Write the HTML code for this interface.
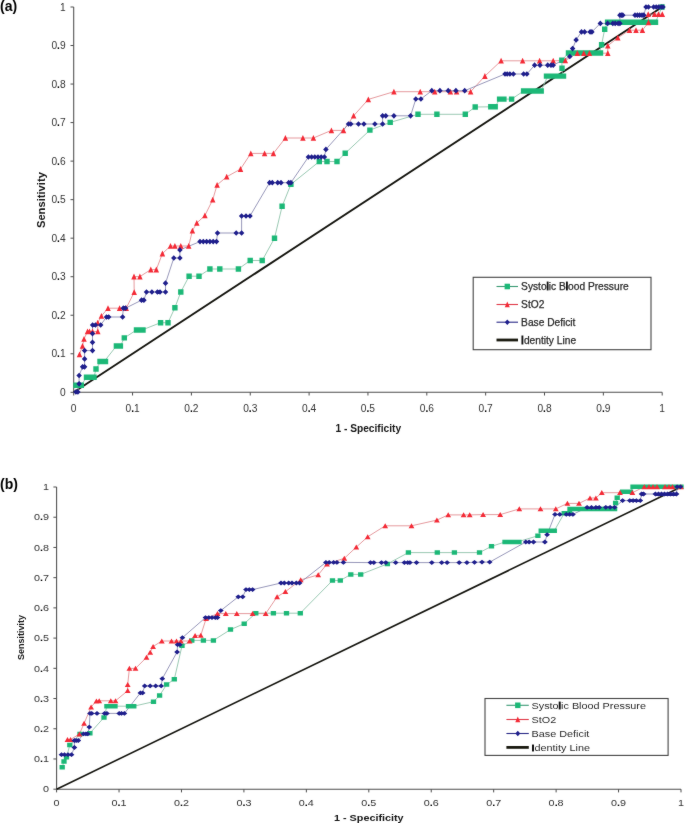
<!DOCTYPE html>
<html><head><meta charset="utf-8"><style>
html,body{margin:0;padding:0;background:#fff;}
body{width:685px;height:823px;overflow:hidden;}
svg{display:block;}
</style></head><body>
<svg width="685" height="823" viewBox="0 0 685 823">
<defs><filter id="bl" color-interpolation-filters="sRGB" x="0" y="0" width="685" height="823" filterUnits="userSpaceOnUse"><feConvolveMatrix order="3" kernelMatrix="1 2 1 2 40 2 1 2 1" edgeMode="duplicate"/></filter></defs>
<rect width="685" height="823" fill="#fff"/>
<g filter="url(#bl)">
<rect width="685" height="823" fill="#fff"/>
<path stroke="#4d4d4d" stroke-width="1.05" fill="none" d="M73.7 7V392.3H662.2"/>
<path stroke="#4d4d4d" stroke-width="1.0" fill="none" d="M70.5 392.3H73.7M73.7 392.3V395.5M70.5 353.77H73.7M132.55 392.3V395.5M70.5 315.24H73.7M191.4 392.3V395.5M70.5 276.71H73.7M250.25 392.3V395.5M70.5 238.18H73.7M309.1 392.3V395.5M70.5 199.65H73.7M367.95 392.3V395.5M70.5 161.12H73.7M426.8 392.3V395.5M70.5 122.59H73.7M485.65 392.3V395.5M70.5 84.06H73.7M544.5 392.3V395.5M70.5 45.53H73.7M603.35 392.3V395.5M70.5 7H73.7M662.2 392.3V395.5"/>
<line x1="73.7" y1="392.3" x2="662.2" y2="7" stroke="#161610" stroke-width="1.9"/>
<polyline fill="none" stroke="#88bfa5" stroke-width="0.85" stroke-opacity="1" points="76,385.2 81.3,385.2 86.5,377.2 90.5,377.2 94,377.2 96,369 100.7,361.5 104.2,361.5 116.4,346 120.4,346 124.3,337.9 136.5,330 142,330 160.6,322.7 168,322.7 174.9,307.7 180.8,292 189.1,276.2 199,276.2 209.9,269 219.8,269 238.4,269 250.2,260.5 262.2,260.5 274.5,238.2 282.1,206.3 290.9,184.4 319.3,161.5 327,161.5 337,161.5 345.2,153.3 369.9,130.1 390.2,122.4 418,114.3 436.9,114.3 465.3,114.3 475.2,107 490.8,106.8 495.2,106.8 499.6,99.1 503.9,99.1 511.6,99.1 523.6,91 529.1,91 534.6,91 541.2,91 547.7,76.1 553.2,76.1 558.7,76.1 562.5,76.1 562,68.2 561.8,60.2 568.5,53 572.9,53 579.5,53 586,53 592.6,53 599.2,53 601.6,44.7 604.7,29.2 607.6,22.2 612,22.2 617,22.2 622,22.2 627,22.2 632,22.2 637,22.2 642,22.2 647,22.2 652,22.2 655.5,22.2 662,7"/>
<polyline fill="none" stroke="#e0888c" stroke-width="0.85" stroke-opacity="1" points="79.5,354.4 82.5,346 84,339 87.5,331.5 89.5,331.5 92.5,331.5 97.8,331.5 97.7,322.8 101.4,316 108,308.2 119.6,308.2 126.2,308.2 134.2,292.2 134,276.6 139.9,276.6 150.8,269.6 156.3,269.6 162.4,253.6 170.5,246 174.9,246 180.8,246 188.7,246 192.4,230.7 196.8,223 204.9,215.5 212.7,199.8 217.1,184.9 226.7,176.8 240.5,169.1 250.8,153.4 264.6,153.4 273.4,153.4 285.4,138 302.9,138 313.4,138 331.4,130.4 343.5,130.4 353.6,115.8 368.3,99.4 393.9,91.7 420.2,91.7 434.7,91.7 450.4,91.7 456.6,91.7 470.6,91.7 484.9,76.1 501.1,60.8 522.6,60.8 539.6,60.8 553.2,60.8 565.3,60.5 577.3,53.2 583.8,53.2 589.4,53.2 607.8,53.2 607.8,45.8 617.8,37.7 629.5,30.2 636,30.2 642.4,30.2 648.5,22.4 648.2,14.2 654.5,14.2 658.5,14.2 662.3,14.2"/>
<polyline fill="none" stroke="#8585ad" stroke-width="0.85" stroke-opacity="1" points="75.9,392 77.9,392 79.1,383.8 79.1,375.5 82.6,366.8 84.6,366.8 84.6,358.9 84.6,350.6 92.5,350.6 92.5,342.3 92.5,333.6 92.6,325 95.5,325 100.7,325 106.5,317 108.7,317 122.6,317 123.3,308.2 125.5,308.2 141.5,300.2 143.9,300.2 146.5,292 151.9,292 157.4,292 160,292 165.5,292 165.5,283.2 173.8,258 179.9,258 179.9,249.9 200,241.6 203.3,241.6 206.6,241.6 209.9,241.6 213.2,241.6 216.5,241.6 217.5,233 236.2,233 241.6,233 241.6,216 246,216 250,216 269.6,182.7 272.3,182.7 277.7,182.7 281,182.7 288.7,182.7 290.9,182.7 308.4,157 311.6,157 314.8,157 318,157 321.2,157 324.4,157 325.9,149.4 348.5,124 350.8,124 358.5,124 363.9,124 374.9,124 382.6,124 382.6,115.8 385.8,115.8 393.9,115.8 410.6,115.8 415.8,99 420.9,99 431.8,90.7 439.9,90.7 448.2,90.7 455.9,90.7 464.7,90.7 505,74 507.2,74 509.9,74 513.4,74 523.6,74 526.9,74 534.6,65.2 540,65.2 547.7,65.2 551,65.2 553.2,65.2 569.8,56.5 572.6,48.6 576.1,39.9 581.5,31.9 584.6,31.9 590.1,31.9 591.9,31.9 600.3,23.4 607.6,23.4 612.8,23.4 615.2,23.4 618.1,23.4 619.9,23.4 619.9,15.2 621.5,15.2 622.8,15.2 635,15.2 637.4,15.2 639.7,15.2 642,15.2 643.8,15.2 646,7 648.5,7 653.6,7 656.2,7 658.7,7 661.3,7 663,7"/>
<path fill="#1cb877" d="M73.3 382.5h5.4v5.4h-5.4zM78.6 382.5h5.4v5.4h-5.4zM83.8 374.5h5.4v5.4h-5.4zM87.8 374.5h5.4v5.4h-5.4zM91.3 374.5h5.4v5.4h-5.4zM93.3 366.3h5.4v5.4h-5.4zM98 358.8h5.4v5.4h-5.4zM101.5 358.8h5.4v5.4h-5.4zM113.7 343.3h5.4v5.4h-5.4zM117.7 343.3h5.4v5.4h-5.4zM121.6 335.2h5.4v5.4h-5.4zM133.8 327.3h5.4v5.4h-5.4zM139.3 327.3h5.4v5.4h-5.4zM157.9 320h5.4v5.4h-5.4zM165.3 320h5.4v5.4h-5.4zM172.2 305h5.4v5.4h-5.4zM178.1 289.3h5.4v5.4h-5.4zM186.4 273.5h5.4v5.4h-5.4zM196.3 273.5h5.4v5.4h-5.4zM207.2 266.3h5.4v5.4h-5.4zM217.1 266.3h5.4v5.4h-5.4zM235.7 266.3h5.4v5.4h-5.4zM247.5 257.8h5.4v5.4h-5.4zM259.5 257.8h5.4v5.4h-5.4zM271.8 235.5h5.4v5.4h-5.4zM279.4 203.6h5.4v5.4h-5.4zM288.2 181.7h5.4v5.4h-5.4zM316.6 158.8h5.4v5.4h-5.4zM324.3 158.8h5.4v5.4h-5.4zM334.3 158.8h5.4v5.4h-5.4zM342.5 150.6h5.4v5.4h-5.4zM367.2 127.4h5.4v5.4h-5.4zM387.5 119.7h5.4v5.4h-5.4zM415.3 111.6h5.4v5.4h-5.4zM434.2 111.6h5.4v5.4h-5.4zM462.6 111.6h5.4v5.4h-5.4zM472.5 104.3h5.4v5.4h-5.4zM488.1 104.1h5.4v5.4h-5.4zM492.5 104.1h5.4v5.4h-5.4zM496.9 96.4h5.4v5.4h-5.4zM501.2 96.4h5.4v5.4h-5.4zM508.9 96.4h5.4v5.4h-5.4zM520.9 88.3h5.4v5.4h-5.4zM526.4 88.3h5.4v5.4h-5.4zM531.9 88.3h5.4v5.4h-5.4zM538.5 88.3h5.4v5.4h-5.4zM545 73.4h5.4v5.4h-5.4zM550.5 73.4h5.4v5.4h-5.4zM556 73.4h5.4v5.4h-5.4zM559.8 73.4h5.4v5.4h-5.4zM559.3 65.5h5.4v5.4h-5.4zM559.1 57.5h5.4v5.4h-5.4zM565.8 50.3h5.4v5.4h-5.4zM570.2 50.3h5.4v5.4h-5.4zM576.8 50.3h5.4v5.4h-5.4zM583.3 50.3h5.4v5.4h-5.4zM589.9 50.3h5.4v5.4h-5.4zM596.5 50.3h5.4v5.4h-5.4zM598.9 42h5.4v5.4h-5.4zM602 26.5h5.4v5.4h-5.4zM604.9 19.5h5.4v5.4h-5.4zM609.3 19.5h5.4v5.4h-5.4zM614.3 19.5h5.4v5.4h-5.4zM619.3 19.5h5.4v5.4h-5.4zM624.3 19.5h5.4v5.4h-5.4zM629.3 19.5h5.4v5.4h-5.4zM634.3 19.5h5.4v5.4h-5.4zM639.3 19.5h5.4v5.4h-5.4zM644.3 19.5h5.4v5.4h-5.4zM649.3 19.5h5.4v5.4h-5.4zM652.8 19.5h5.4v5.4h-5.4zM659.3 4.3h5.4v5.4h-5.4zM73.3 382.5h5.4v5.4h-5.4zM75.07 382.5h5.4v5.4h-5.4zM76.83 382.5h5.4v5.4h-5.4zM78.6 382.5h5.4v5.4h-5.4zM83.8 374.5h5.4v5.4h-5.4zM85.67 374.5h5.4v5.4h-5.4zM87.55 374.5h5.4v5.4h-5.4zM89.42 374.5h5.4v5.4h-5.4zM91.3 374.5h5.4v5.4h-5.4zM97.3 358.8h5.4v5.4h-5.4zM99.13 358.8h5.4v5.4h-5.4zM100.97 358.8h5.4v5.4h-5.4zM102.8 358.8h5.4v5.4h-5.4zM113.7 343.3h5.4v5.4h-5.4zM115.7 343.3h5.4v5.4h-5.4zM117.7 343.3h5.4v5.4h-5.4zM134.8 327.3h5.4v5.4h-5.4zM136.63 327.3h5.4v5.4h-5.4zM138.47 327.3h5.4v5.4h-5.4zM140.3 327.3h5.4v5.4h-5.4zM488.1 104.1h5.4v5.4h-5.4zM490.3 104.1h5.4v5.4h-5.4zM492.5 104.1h5.4v5.4h-5.4zM496.9 96.4h5.4v5.4h-5.4zM499.05 96.4h5.4v5.4h-5.4zM501.2 96.4h5.4v5.4h-5.4zM520.9 88.3h5.4v5.4h-5.4zM522.86 88.3h5.4v5.4h-5.4zM524.81 88.3h5.4v5.4h-5.4zM526.77 88.3h5.4v5.4h-5.4zM528.72 88.3h5.4v5.4h-5.4zM530.68 88.3h5.4v5.4h-5.4zM532.63 88.3h5.4v5.4h-5.4zM534.59 88.3h5.4v5.4h-5.4zM536.54 88.3h5.4v5.4h-5.4zM538.5 88.3h5.4v5.4h-5.4zM543.8 73.4h5.4v5.4h-5.4zM545.92 73.4h5.4v5.4h-5.4zM548.05 73.4h5.4v5.4h-5.4zM550.17 73.4h5.4v5.4h-5.4zM552.3 73.4h5.4v5.4h-5.4zM554.42 73.4h5.4v5.4h-5.4zM556.55 73.4h5.4v5.4h-5.4zM558.67 73.4h5.4v5.4h-5.4zM560.8 73.4h5.4v5.4h-5.4zM566.3 50.3h5.4v5.4h-5.4zM568.27 50.3h5.4v5.4h-5.4zM570.24 50.3h5.4v5.4h-5.4zM572.21 50.3h5.4v5.4h-5.4zM574.17 50.3h5.4v5.4h-5.4zM576.14 50.3h5.4v5.4h-5.4zM578.11 50.3h5.4v5.4h-5.4zM580.08 50.3h5.4v5.4h-5.4zM582.05 50.3h5.4v5.4h-5.4zM584.02 50.3h5.4v5.4h-5.4zM585.99 50.3h5.4v5.4h-5.4zM587.96 50.3h5.4v5.4h-5.4zM589.92 50.3h5.4v5.4h-5.4zM591.89 50.3h5.4v5.4h-5.4zM593.86 50.3h5.4v5.4h-5.4zM595.83 50.3h5.4v5.4h-5.4zM597.8 50.3h5.4v5.4h-5.4zM606.3 19.5h5.4v5.4h-5.4zM608.32 19.5h5.4v5.4h-5.4zM610.35 19.5h5.4v5.4h-5.4zM612.37 19.5h5.4v5.4h-5.4zM614.39 19.5h5.4v5.4h-5.4zM616.41 19.5h5.4v5.4h-5.4zM618.44 19.5h5.4v5.4h-5.4zM620.46 19.5h5.4v5.4h-5.4zM622.48 19.5h5.4v5.4h-5.4zM624.5 19.5h5.4v5.4h-5.4zM626.53 19.5h5.4v5.4h-5.4zM628.55 19.5h5.4v5.4h-5.4zM630.57 19.5h5.4v5.4h-5.4zM632.6 19.5h5.4v5.4h-5.4zM634.62 19.5h5.4v5.4h-5.4zM636.64 19.5h5.4v5.4h-5.4zM638.66 19.5h5.4v5.4h-5.4zM640.69 19.5h5.4v5.4h-5.4zM642.71 19.5h5.4v5.4h-5.4zM644.73 19.5h5.4v5.4h-5.4zM646.75 19.5h5.4v5.4h-5.4zM648.78 19.5h5.4v5.4h-5.4zM650.8 19.5h5.4v5.4h-5.4z"/>
<path fill="#f42a36" d="M79.5 351.38L82.25 357.18L76.75 357.18zM82.5 342.98L85.25 348.78L79.75 348.78zM84 335.98L86.75 341.78L81.25 341.78zM87.5 328.48L90.25 334.28L84.75 334.28zM89.5 328.48L92.25 334.28L86.75 334.28zM92.5 328.48L95.25 334.28L89.75 334.28zM97.8 328.48L100.55 334.28L95.05 334.28zM97.7 319.78L100.45 325.58L94.95 325.58zM101.4 312.98L104.15 318.78L98.65 318.78zM108 305.18L110.75 310.98L105.25 310.98zM119.6 305.18L122.35 310.98L116.85 310.98zM126.2 305.18L128.95 310.98L123.45 310.98zM134.2 289.18L136.95 294.98L131.45 294.98zM134 273.58L136.75 279.38L131.25 279.38zM139.9 273.58L142.65 279.38L137.15 279.38zM150.8 266.58L153.55 272.38L148.05 272.38zM156.3 266.58L159.05 272.38L153.55 272.38zM162.4 250.58L165.15 256.38L159.65 256.38zM170.5 242.98L173.25 248.78L167.75 248.78zM174.9 242.98L177.65 248.78L172.15 248.78zM180.8 242.98L183.55 248.78L178.05 248.78zM188.7 242.98L191.45 248.78L185.95 248.78zM192.4 227.68L195.15 233.48L189.65 233.48zM196.8 219.98L199.55 225.78L194.05 225.78zM204.9 212.48L207.65 218.28L202.15 218.28zM212.7 196.78L215.45 202.58L209.95 202.58zM217.1 181.88L219.85 187.68L214.35 187.68zM226.7 173.78L229.45 179.58L223.95 179.58zM240.5 166.08L243.25 171.88L237.75 171.88zM250.8 150.38L253.55 156.18L248.05 156.18zM264.6 150.38L267.35 156.18L261.85 156.18zM273.4 150.38L276.15 156.18L270.65 156.18zM285.4 134.98L288.15 140.78L282.65 140.78zM302.9 134.98L305.65 140.78L300.15 140.78zM313.4 134.98L316.15 140.78L310.65 140.78zM331.4 127.38L334.15 133.18L328.65 133.18zM343.5 127.38L346.25 133.18L340.75 133.18zM353.6 112.78L356.35 118.58L350.85 118.58zM368.3 96.38L371.05 102.18L365.55 102.18zM393.9 88.68L396.65 94.48L391.15 94.48zM420.2 88.68L422.95 94.48L417.45 94.48zM434.7 88.68L437.45 94.48L431.95 94.48zM450.4 88.68L453.15 94.48L447.65 94.48zM456.6 88.68L459.35 94.48L453.85 94.48zM470.6 88.68L473.35 94.48L467.85 94.48zM484.9 73.08L487.65 78.88L482.15 78.88zM501.1 57.78L503.85 63.58L498.35 63.58zM522.6 57.78L525.35 63.58L519.85 63.58zM539.6 57.78L542.35 63.58L536.85 63.58zM553.2 57.78L555.95 63.58L550.45 63.58zM565.3 57.48L568.05 63.28L562.55 63.28zM577.3 50.18L580.05 55.98L574.55 55.98zM583.8 50.18L586.55 55.98L581.05 55.98zM589.4 50.18L592.15 55.98L586.65 55.98zM607.8 50.18L610.55 55.98L605.05 55.98zM607.8 42.78L610.55 48.58L605.05 48.58zM617.8 34.68L620.55 40.48L615.05 40.48zM629.5 27.18L632.25 32.98L626.75 32.98zM636 27.18L638.75 32.98L633.25 32.98zM642.4 27.18L645.15 32.98L639.65 32.98zM648.5 19.38L651.25 25.18L645.75 25.18zM648.2 11.18L650.95 16.98L645.45 16.98zM654.5 11.18L657.25 16.98L651.75 16.98zM658.5 11.18L661.25 16.98L655.75 16.98zM662.3 11.18L665.05 16.98L659.55 16.98z"/>
<path fill="#1e1e8c" d="M75.9 389.15L78.65 392L75.9 394.85L73.15 392zM77.9 389.15L80.65 392L77.9 394.85L75.15 392zM79.1 380.95L81.85 383.8L79.1 386.65L76.35 383.8zM79.1 372.65L81.85 375.5L79.1 378.35L76.35 375.5zM82.6 363.95L85.35 366.8L82.6 369.65L79.85 366.8zM84.6 363.95L87.35 366.8L84.6 369.65L81.85 366.8zM84.6 356.05L87.35 358.9L84.6 361.75L81.85 358.9zM84.6 347.75L87.35 350.6L84.6 353.45L81.85 350.6zM92.5 347.75L95.25 350.6L92.5 353.45L89.75 350.6zM92.5 339.45L95.25 342.3L92.5 345.15L89.75 342.3zM92.5 330.75L95.25 333.6L92.5 336.45L89.75 333.6zM92.6 322.15L95.35 325L92.6 327.85L89.85 325zM95.5 322.15L98.25 325L95.5 327.85L92.75 325zM100.7 322.15L103.45 325L100.7 327.85L97.95 325zM106.5 314.15L109.25 317L106.5 319.85L103.75 317zM108.7 314.15L111.45 317L108.7 319.85L105.95 317zM122.6 314.15L125.35 317L122.6 319.85L119.85 317zM123.3 305.35L126.05 308.2L123.3 311.05L120.55 308.2zM125.5 305.35L128.25 308.2L125.5 311.05L122.75 308.2zM141.5 297.35L144.25 300.2L141.5 303.05L138.75 300.2zM143.9 297.35L146.65 300.2L143.9 303.05L141.15 300.2zM146.5 289.15L149.25 292L146.5 294.85L143.75 292zM151.9 289.15L154.65 292L151.9 294.85L149.15 292zM157.4 289.15L160.15 292L157.4 294.85L154.65 292zM160 289.15L162.75 292L160 294.85L157.25 292zM165.5 289.15L168.25 292L165.5 294.85L162.75 292zM165.5 280.35L168.25 283.2L165.5 286.05L162.75 283.2zM173.8 255.15L176.55 258L173.8 260.85L171.05 258zM179.9 255.15L182.65 258L179.9 260.85L177.15 258zM179.9 247.05L182.65 249.9L179.9 252.75L177.15 249.9zM200 238.75L202.75 241.6L200 244.45L197.25 241.6zM203.3 238.75L206.05 241.6L203.3 244.45L200.55 241.6zM206.6 238.75L209.35 241.6L206.6 244.45L203.85 241.6zM209.9 238.75L212.65 241.6L209.9 244.45L207.15 241.6zM213.2 238.75L215.95 241.6L213.2 244.45L210.45 241.6zM216.5 238.75L219.25 241.6L216.5 244.45L213.75 241.6zM217.5 230.15L220.25 233L217.5 235.85L214.75 233zM236.2 230.15L238.95 233L236.2 235.85L233.45 233zM241.6 230.15L244.35 233L241.6 235.85L238.85 233zM241.6 213.15L244.35 216L241.6 218.85L238.85 216zM246 213.15L248.75 216L246 218.85L243.25 216zM250 213.15L252.75 216L250 218.85L247.25 216zM269.6 179.85L272.35 182.7L269.6 185.55L266.85 182.7zM272.3 179.85L275.05 182.7L272.3 185.55L269.55 182.7zM277.7 179.85L280.45 182.7L277.7 185.55L274.95 182.7zM281 179.85L283.75 182.7L281 185.55L278.25 182.7zM288.7 179.85L291.45 182.7L288.7 185.55L285.95 182.7zM290.9 179.85L293.65 182.7L290.9 185.55L288.15 182.7zM308.4 154.15L311.15 157L308.4 159.85L305.65 157zM311.6 154.15L314.35 157L311.6 159.85L308.85 157zM314.8 154.15L317.55 157L314.8 159.85L312.05 157zM318 154.15L320.75 157L318 159.85L315.25 157zM321.2 154.15L323.95 157L321.2 159.85L318.45 157zM324.4 154.15L327.15 157L324.4 159.85L321.65 157zM325.9 146.55L328.65 149.4L325.9 152.25L323.15 149.4zM348.5 121.15L351.25 124L348.5 126.85L345.75 124zM350.8 121.15L353.55 124L350.8 126.85L348.05 124zM358.5 121.15L361.25 124L358.5 126.85L355.75 124zM363.9 121.15L366.65 124L363.9 126.85L361.15 124zM374.9 121.15L377.65 124L374.9 126.85L372.15 124zM382.6 121.15L385.35 124L382.6 126.85L379.85 124zM382.6 112.95L385.35 115.8L382.6 118.65L379.85 115.8zM385.8 112.95L388.55 115.8L385.8 118.65L383.05 115.8zM393.9 112.95L396.65 115.8L393.9 118.65L391.15 115.8zM410.6 112.95L413.35 115.8L410.6 118.65L407.85 115.8zM415.8 96.15L418.55 99L415.8 101.85L413.05 99zM420.9 96.15L423.65 99L420.9 101.85L418.15 99zM431.8 87.85L434.55 90.7L431.8 93.55L429.05 90.7zM439.9 87.85L442.65 90.7L439.9 93.55L437.15 90.7zM448.2 87.85L450.95 90.7L448.2 93.55L445.45 90.7zM455.9 87.85L458.65 90.7L455.9 93.55L453.15 90.7zM464.7 87.85L467.45 90.7L464.7 93.55L461.95 90.7zM505 71.15L507.75 74L505 76.85L502.25 74zM507.2 71.15L509.95 74L507.2 76.85L504.45 74zM509.9 71.15L512.65 74L509.9 76.85L507.15 74zM513.4 71.15L516.15 74L513.4 76.85L510.65 74zM523.6 71.15L526.35 74L523.6 76.85L520.85 74zM526.9 71.15L529.65 74L526.9 76.85L524.15 74zM534.6 62.35L537.35 65.2L534.6 68.05L531.85 65.2zM540 62.35L542.75 65.2L540 68.05L537.25 65.2zM547.7 62.35L550.45 65.2L547.7 68.05L544.95 65.2zM551 62.35L553.75 65.2L551 68.05L548.25 65.2zM553.2 62.35L555.95 65.2L553.2 68.05L550.45 65.2zM569.8 53.65L572.55 56.5L569.8 59.35L567.05 56.5zM572.6 45.75L575.35 48.6L572.6 51.45L569.85 48.6zM576.1 37.05L578.85 39.9L576.1 42.75L573.35 39.9zM581.5 29.05L584.25 31.9L581.5 34.75L578.75 31.9zM584.6 29.05L587.35 31.9L584.6 34.75L581.85 31.9zM590.1 29.05L592.85 31.9L590.1 34.75L587.35 31.9zM591.9 29.05L594.65 31.9L591.9 34.75L589.15 31.9zM600.3 20.55L603.05 23.4L600.3 26.25L597.55 23.4zM607.6 20.55L610.35 23.4L607.6 26.25L604.85 23.4zM612.8 20.55L615.55 23.4L612.8 26.25L610.05 23.4zM615.2 20.55L617.95 23.4L615.2 26.25L612.45 23.4zM618.1 20.55L620.85 23.4L618.1 26.25L615.35 23.4zM619.9 20.55L622.65 23.4L619.9 26.25L617.15 23.4zM619.9 12.35L622.65 15.2L619.9 18.05L617.15 15.2zM621.5 12.35L624.25 15.2L621.5 18.05L618.75 15.2zM622.8 12.35L625.55 15.2L622.8 18.05L620.05 15.2zM635 12.35L637.75 15.2L635 18.05L632.25 15.2zM637.4 12.35L640.15 15.2L637.4 18.05L634.65 15.2zM639.7 12.35L642.45 15.2L639.7 18.05L636.95 15.2zM642 12.35L644.75 15.2L642 18.05L639.25 15.2zM643.8 12.35L646.55 15.2L643.8 18.05L641.05 15.2zM646 4.15L648.75 7L646 9.85L643.25 7zM648.5 4.15L651.25 7L648.5 9.85L645.75 7zM653.6 4.15L656.35 7L653.6 9.85L650.85 7zM656.2 4.15L658.95 7L656.2 9.85L653.45 7zM658.7 4.15L661.45 7L658.7 9.85L655.95 7zM661.3 4.15L664.05 7L661.3 9.85L658.55 7zM663 4.15L665.75 7L663 9.85L660.25 7z"/>
<g font-family="Liberation Sans, sans-serif" font-size="10.2" fill="#333">
<text x="65.6" y="395.9" text-anchor="end">0</text>
<text x="73.7" y="412.3" text-anchor="middle">0</text>
<text x="65.6" y="357.37" text-anchor="end">0<tspan font-weight="bold" fill="#000">.</tspan>1</text>
<text x="132.55" y="412.3" text-anchor="middle">0<tspan font-weight="bold" fill="#000">.</tspan>1</text>
<text x="65.6" y="318.84" text-anchor="end">0<tspan font-weight="bold" fill="#000">.</tspan>2</text>
<text x="191.4" y="412.3" text-anchor="middle">0<tspan font-weight="bold" fill="#000">.</tspan>2</text>
<text x="65.6" y="280.31" text-anchor="end">0<tspan font-weight="bold" fill="#000">.</tspan>3</text>
<text x="250.25" y="412.3" text-anchor="middle">0<tspan font-weight="bold" fill="#000">.</tspan>3</text>
<text x="65.6" y="241.78" text-anchor="end">0<tspan font-weight="bold" fill="#000">.</tspan>4</text>
<text x="309.1" y="412.3" text-anchor="middle">0<tspan font-weight="bold" fill="#000">.</tspan>4</text>
<text x="65.6" y="203.25" text-anchor="end">0<tspan font-weight="bold" fill="#000">.</tspan>5</text>
<text x="367.95" y="412.3" text-anchor="middle">0<tspan font-weight="bold" fill="#000">.</tspan>5</text>
<text x="65.6" y="164.72" text-anchor="end">0<tspan font-weight="bold" fill="#000">.</tspan>6</text>
<text x="426.8" y="412.3" text-anchor="middle">0<tspan font-weight="bold" fill="#000">.</tspan>6</text>
<text x="65.6" y="126.19" text-anchor="end">0<tspan font-weight="bold" fill="#000">.</tspan>7</text>
<text x="485.65" y="412.3" text-anchor="middle">0<tspan font-weight="bold" fill="#000">.</tspan>7</text>
<text x="65.6" y="87.66" text-anchor="end">0<tspan font-weight="bold" fill="#000">.</tspan>8</text>
<text x="544.5" y="412.3" text-anchor="middle">0<tspan font-weight="bold" fill="#000">.</tspan>8</text>
<text x="65.6" y="49.13" text-anchor="end">0<tspan font-weight="bold" fill="#000">.</tspan>9</text>
<text x="603.35" y="412.3" text-anchor="middle">0<tspan font-weight="bold" fill="#000">.</tspan>9</text>
<text x="65.6" y="10.6" text-anchor="end">1</text>
<text x="662.2" y="412.3" text-anchor="middle">1</text>
</g>
<g font-family="Liberation Sans, sans-serif" font-weight="bold" fill="#161616">
<text transform="translate(45.1 200.1) rotate(-90)" font-size="11.2" text-anchor="middle">Sensitivity</text>
<text x="368.3" y="432.2" font-size="10.2" text-anchor="middle">1 - Specificity</text>
<text x="0" y="10.8" font-size="14" fill="#000">(a)</text>
</g>
<rect x="473.2" y="277.3" width="177.8" height="72.4" fill="#fff" stroke="#444" stroke-width="1.1"/>
<line x1="496.5" y1="286.5" x2="518" y2="286.5" stroke="#3a9a74" stroke-width="1.1"/>
<path fill="#1cb877" d="M504.6 283.7h5.4v5.6h-5.4z"/>
<text transform="translate(521.1 290.1) scale(1.0 1)" font-family="Liberation Sans, sans-serif" font-size="10.2" fill="#2a2a2a" stroke="#2a2a2a" stroke-width="0.25">Systo<tspan stroke="#111" stroke-width="0.9">l</tspan>ic B<tspan stroke="#111" stroke-width="0.9">l</tspan>ood Pressure</text>
<line x1="496.5" y1="304.5" x2="518" y2="304.5" stroke="#e03a48" stroke-width="1.1"/>
<path fill="#f42a36" d="M507.3 301.59L509.8 307.19L504.8 307.19z"/>
<text transform="translate(521.1 308.1) scale(1.0 1)" font-family="Liberation Sans, sans-serif" font-size="10.2" fill="#2a2a2a" stroke="#2a2a2a" stroke-width="0.25">StO2</text>
<line x1="496.5" y1="322.2" x2="518" y2="322.2" stroke="#2a2a88" stroke-width="1.1"/>
<path fill="#1e1e8c" d="M507.3 319.5L509.8 322.2L507.3 324.9L504.8 322.2z"/>
<text transform="translate(521.1 325.8) scale(1.0 1)" font-family="Liberation Sans, sans-serif" font-size="10.2" fill="#2a2a2a" stroke="#2a2a2a" stroke-width="0.25">Base Deficit</text>
<line x1="496.5" y1="340" x2="518" y2="340" stroke="#1a1a10" stroke-width="2.8"/>
<text transform="translate(521.1 343.6) scale(1.0 1)" font-family="Liberation Sans, sans-serif" font-size="10.2" fill="#2a2a2a" stroke="#2a2a2a" stroke-width="0.25"><tspan stroke="#111" stroke-width="0.9">I</tspan>dentity Line</text>
<path stroke="#4d4d4d" stroke-width="1.05" fill="none" d="M56.6 487V789.2H681"/>
<path stroke="#4d4d4d" stroke-width="1.0" fill="none" d="M53.4 789.2H56.6M56.6 789.2V792.4M53.4 758.98H56.6M119.04 789.2V792.4M53.4 728.76H56.6M181.48 789.2V792.4M53.4 698.54H56.6M243.92 789.2V792.4M53.4 668.32H56.6M306.36 789.2V792.4M53.4 638.1H56.6M368.8 789.2V792.4M53.4 607.88H56.6M431.24 789.2V792.4M53.4 577.66H56.6M493.68 789.2V792.4M53.4 547.44H56.6M556.12 789.2V792.4M53.4 517.22H56.6M618.56 789.2V792.4M53.4 487H56.6M681 789.2V792.4"/>
<line x1="56.6" y1="789.2" x2="681" y2="487" stroke="#161610" stroke-width="1.6"/>
<polyline fill="none" stroke="#88bfa5" stroke-width="0.85" stroke-opacity="1" points="62.2,767.2 64,761.5 66.5,757.2 69.8,745.1 80,734 89.9,733.2 104,717.5 106.9,706.2 110.5,706.2 115,706.2 128.5,706.2 133.8,706.2 153.5,701.7 159.6,695.5 166.6,684.6 174.3,679.3 182,645.8 191.8,640.4 203.4,640.4 213.4,640.4 230.5,629.6 244.2,623.7 255.8,613.2 273.4,613.2 286.5,613.2 300.3,613.2 332.5,580.5 340.3,580.5 350.8,574.4 360.7,574.4 387.4,563.9 408.4,552.6 437.3,552.6 454.4,552.6 479.5,552.6 491.5,546.3 505,542 509,542 513,542 517,542 537.9,535.8 541.2,530.8 545.5,530.8 550,530.8 554.3,530.8 564.2,513.3 569.6,513.3 572,509 576,509 581,509 588,509 592,509 596,509 600,509 604,509 608,509 612,509 615.6,503 617.2,497.8 622.6,491.8 626.5,491.8 630.5,491.8 633,486.8 637,486.8 641,486.8 645,486.8 650,486.8 655,486.8 660,486.8 665,486.8 670,486.8 675,486.8 681,486.8"/>
<polyline fill="none" stroke="#e0888c" stroke-width="0.85" stroke-opacity="1" points="67.5,739.6 70.5,739.6 79.4,734 84.1,723.4 91.1,707 96.4,701 99.2,700.8 110.8,700.8 115.5,700.8 127.7,690.7 127.7,684.6 129.4,668.4 135.5,668.4 146.5,657.4 150.2,652.4 153.1,646.5 161.8,641 171.5,641 176.5,641 180.9,641 189.6,641 195.1,635.5 200.8,635.3 206.1,618.7 217.5,613.6 225.8,613.6 236.8,613.6 252.6,613.6 265.7,613.6 277.1,596.8 285.4,591.7 300.7,579.9 318.2,574.9 327,564 344.3,558.3 356.3,547.1 367.7,536.8 385.2,525.8 411.5,525.8 436.9,520.1 448.2,514.9 463.6,514.9 469.7,514.9 483.1,514.6 500.2,514.6 519.3,508.9 540.5,508.9 555.8,508.9 567.4,503.4 579,503.4 590,498 595.9,498 601.8,492.7 620,492.7 632.4,492.7 644.3,486.8 649,486.8 653,486.8 657,486.8 665,486.8 669,486.8 672.5,486.8 681,486.8"/>
<polyline fill="none" stroke="#8585ad" stroke-width="0.85" stroke-opacity="1" points="61.5,754.7 64.5,754.7 68,754.7 71.5,754.7 74.4,747.5 74.4,740.5 76.2,740.5 78.3,740.5 83.5,733.9 85.9,733.9 87.7,733.9 89.3,727.1 90,713.4 91.7,713.4 97,713.4 104.6,713.4 106.9,713.4 119.2,713.4 121.5,713.4 124.4,713.4 140.4,692.9 142.6,692.9 144.7,685.9 150.2,685.9 155.7,685.9 161.2,685.9 162.3,678.7 177.1,652 177.6,644.7 179.8,644.7 182.4,637.7 205.5,617.6 208.8,617.6 212,617.6 215.3,617.6 217.5,617.6 220.8,610.6 238.3,596.8 242.7,596.8 246,589.6 249.3,589.6 252.6,589.6 281,583 284.3,583 288.7,583 292,583 296.3,583 299.6,583 325.9,562.4 329.2,562.4 333.6,562.4 336.9,562.4 343.4,562.4 370.5,562.6 373.8,562.6 381.5,562.6 385.8,562.6 395.7,562.6 404.4,562.6 407.7,562.6 409.9,562.6 416.5,562.6 431.8,562.6 441.7,562.6 447.1,562.6 459.2,562.6 466.9,562.6 474.5,562.3 482,562.1 489.7,562.1 525.8,542 529.1,542 533.5,542 544.9,542 547.1,534.7 555,514.4 559.8,514.4 566.3,514.4 569.6,514.4 572.9,514.4 587.1,507.4 591.5,507.4 595.9,507.4 599.2,507.4 605.8,507.3 610.1,507.3 614.6,507.3 622.6,500.6 629.8,500.6 633.1,500.6 636.4,500.6 640.3,500.6 641.6,494 643.6,494 655.4,494 658.5,494 661.5,494 664.5,494 667.5,494 670.5,494 673.5,494 676.5,494 677.1,486.8 680.4,486.8"/>
<path fill="#1cb877" d="M59.55 764.95h5.3v4.5h-5.3zM61.35 759.25h5.3v4.5h-5.3zM63.85 754.95h5.3v4.5h-5.3zM67.15 742.85h5.3v4.5h-5.3zM77.35 731.75h5.3v4.5h-5.3zM87.25 730.95h5.3v4.5h-5.3zM101.35 715.25h5.3v4.5h-5.3zM104.25 703.95h5.3v4.5h-5.3zM107.85 703.95h5.3v4.5h-5.3zM112.35 703.95h5.3v4.5h-5.3zM125.85 703.95h5.3v4.5h-5.3zM131.15 703.95h5.3v4.5h-5.3zM150.85 699.45h5.3v4.5h-5.3zM156.95 693.25h5.3v4.5h-5.3zM163.95 682.35h5.3v4.5h-5.3zM171.65 677.05h5.3v4.5h-5.3zM179.35 643.55h5.3v4.5h-5.3zM189.15 638.15h5.3v4.5h-5.3zM200.75 638.15h5.3v4.5h-5.3zM210.75 638.15h5.3v4.5h-5.3zM227.85 627.35h5.3v4.5h-5.3zM241.55 621.45h5.3v4.5h-5.3zM253.15 610.95h5.3v4.5h-5.3zM270.75 610.95h5.3v4.5h-5.3zM283.85 610.95h5.3v4.5h-5.3zM297.65 610.95h5.3v4.5h-5.3zM329.85 578.25h5.3v4.5h-5.3zM337.65 578.25h5.3v4.5h-5.3zM348.15 572.15h5.3v4.5h-5.3zM358.05 572.15h5.3v4.5h-5.3zM384.75 561.65h5.3v4.5h-5.3zM405.75 550.35h5.3v4.5h-5.3zM434.65 550.35h5.3v4.5h-5.3zM451.75 550.35h5.3v4.5h-5.3zM476.85 550.35h5.3v4.5h-5.3zM488.85 544.05h5.3v4.5h-5.3zM502.35 539.75h5.3v4.5h-5.3zM506.35 539.75h5.3v4.5h-5.3zM510.35 539.75h5.3v4.5h-5.3zM514.35 539.75h5.3v4.5h-5.3zM535.25 533.55h5.3v4.5h-5.3zM538.55 528.55h5.3v4.5h-5.3zM542.85 528.55h5.3v4.5h-5.3zM547.35 528.55h5.3v4.5h-5.3zM551.65 528.55h5.3v4.5h-5.3zM561.55 511.05h5.3v4.5h-5.3zM566.95 511.05h5.3v4.5h-5.3zM569.35 506.75h5.3v4.5h-5.3zM573.35 506.75h5.3v4.5h-5.3zM578.35 506.75h5.3v4.5h-5.3zM585.35 506.75h5.3v4.5h-5.3zM589.35 506.75h5.3v4.5h-5.3zM593.35 506.75h5.3v4.5h-5.3zM597.35 506.75h5.3v4.5h-5.3zM601.35 506.75h5.3v4.5h-5.3zM605.35 506.75h5.3v4.5h-5.3zM609.35 506.75h5.3v4.5h-5.3zM612.95 500.75h5.3v4.5h-5.3zM614.55 495.55h5.3v4.5h-5.3zM619.95 489.55h5.3v4.5h-5.3zM623.85 489.55h5.3v4.5h-5.3zM627.85 489.55h5.3v4.5h-5.3zM630.35 484.55h5.3v4.5h-5.3zM634.35 484.55h5.3v4.5h-5.3zM638.35 484.55h5.3v4.5h-5.3zM642.35 484.55h5.3v4.5h-5.3zM647.35 484.55h5.3v4.5h-5.3zM652.35 484.55h5.3v4.5h-5.3zM657.35 484.55h5.3v4.5h-5.3zM662.35 484.55h5.3v4.5h-5.3zM667.35 484.55h5.3v4.5h-5.3zM672.35 484.55h5.3v4.5h-5.3zM678.35 484.55h5.3v4.5h-5.3zM104.25 703.95h5.3v4.5h-5.3zM106.28 703.95h5.3v4.5h-5.3zM108.3 703.95h5.3v4.5h-5.3zM110.32 703.95h5.3v4.5h-5.3zM112.35 703.95h5.3v4.5h-5.3zM125.85 703.95h5.3v4.5h-5.3zM127.62 703.95h5.3v4.5h-5.3zM129.38 703.95h5.3v4.5h-5.3zM131.15 703.95h5.3v4.5h-5.3zM502.35 539.75h5.3v4.5h-5.3zM504.35 539.75h5.3v4.5h-5.3zM506.35 539.75h5.3v4.5h-5.3zM508.35 539.75h5.3v4.5h-5.3zM510.35 539.75h5.3v4.5h-5.3zM512.35 539.75h5.3v4.5h-5.3zM514.35 539.75h5.3v4.5h-5.3zM516.35 539.75h5.3v4.5h-5.3zM538.55 528.55h5.3v4.5h-5.3zM540.42 528.55h5.3v4.5h-5.3zM542.29 528.55h5.3v4.5h-5.3zM544.16 528.55h5.3v4.5h-5.3zM546.04 528.55h5.3v4.5h-5.3zM547.91 528.55h5.3v4.5h-5.3zM549.78 528.55h5.3v4.5h-5.3zM551.65 528.55h5.3v4.5h-5.3zM561.55 511.05h5.3v4.5h-5.3zM563.35 511.05h5.3v4.5h-5.3zM565.15 511.05h5.3v4.5h-5.3zM566.95 511.05h5.3v4.5h-5.3zM567.35 506.75h5.3v4.5h-5.3zM569.38 506.75h5.3v4.5h-5.3zM571.4 506.75h5.3v4.5h-5.3zM573.43 506.75h5.3v4.5h-5.3zM575.46 506.75h5.3v4.5h-5.3zM577.49 506.75h5.3v4.5h-5.3zM579.51 506.75h5.3v4.5h-5.3zM581.54 506.75h5.3v4.5h-5.3zM583.57 506.75h5.3v4.5h-5.3zM585.6 506.75h5.3v4.5h-5.3zM587.62 506.75h5.3v4.5h-5.3zM589.65 506.75h5.3v4.5h-5.3zM591.68 506.75h5.3v4.5h-5.3zM593.7 506.75h5.3v4.5h-5.3zM595.73 506.75h5.3v4.5h-5.3zM597.76 506.75h5.3v4.5h-5.3zM599.79 506.75h5.3v4.5h-5.3zM601.81 506.75h5.3v4.5h-5.3zM603.84 506.75h5.3v4.5h-5.3zM605.87 506.75h5.3v4.5h-5.3zM607.9 506.75h5.3v4.5h-5.3zM609.92 506.75h5.3v4.5h-5.3zM611.95 506.75h5.3v4.5h-5.3zM619.95 489.55h5.3v4.5h-5.3zM621.93 489.55h5.3v4.5h-5.3zM623.9 489.55h5.3v4.5h-5.3zM625.88 489.55h5.3v4.5h-5.3zM627.85 489.55h5.3v4.5h-5.3zM630.35 484.55h5.3v4.5h-5.3zM632.35 484.55h5.3v4.5h-5.3zM634.35 484.55h5.3v4.5h-5.3zM636.35 484.55h5.3v4.5h-5.3zM638.35 484.55h5.3v4.5h-5.3zM640.35 484.55h5.3v4.5h-5.3zM642.35 484.55h5.3v4.5h-5.3zM644.35 484.55h5.3v4.5h-5.3zM646.35 484.55h5.3v4.5h-5.3zM648.35 484.55h5.3v4.5h-5.3zM650.35 484.55h5.3v4.5h-5.3zM652.35 484.55h5.3v4.5h-5.3zM654.35 484.55h5.3v4.5h-5.3zM656.35 484.55h5.3v4.5h-5.3zM658.35 484.55h5.3v4.5h-5.3zM660.35 484.55h5.3v4.5h-5.3zM662.35 484.55h5.3v4.5h-5.3zM664.35 484.55h5.3v4.5h-5.3zM666.35 484.55h5.3v4.5h-5.3zM668.35 484.55h5.3v4.5h-5.3zM670.35 484.55h5.3v4.5h-5.3zM672.35 484.55h5.3v4.5h-5.3zM674.35 484.55h5.3v4.5h-5.3zM676.35 484.55h5.3v4.5h-5.3zM678.35 484.55h5.3v4.5h-5.3z"/>
<path fill="#f42a36" d="M67.5 737L70.4 742L64.6 742zM70.5 737L73.4 742L67.6 742zM79.4 731.4L82.3 736.4L76.5 736.4zM84.1 720.8L87 725.8L81.2 725.8zM91.1 704.4L94 709.4L88.2 709.4zM96.4 698.4L99.3 703.4L93.5 703.4zM99.2 698.2L102.1 703.2L96.3 703.2zM110.8 698.2L113.7 703.2L107.9 703.2zM115.5 698.2L118.4 703.2L112.6 703.2zM127.7 688.1L130.6 693.1L124.8 693.1zM127.7 682L130.6 687L124.8 687zM129.4 665.8L132.3 670.8L126.5 670.8zM135.5 665.8L138.4 670.8L132.6 670.8zM146.5 654.8L149.4 659.8L143.6 659.8zM150.2 649.8L153.1 654.8L147.3 654.8zM153.1 643.9L156 648.9L150.2 648.9zM161.8 638.4L164.7 643.4L158.9 643.4zM171.5 638.4L174.4 643.4L168.6 643.4zM176.5 638.4L179.4 643.4L173.6 643.4zM180.9 638.4L183.8 643.4L178 643.4zM189.6 638.4L192.5 643.4L186.7 643.4zM195.1 632.9L198 637.9L192.2 637.9zM200.8 632.7L203.7 637.7L197.9 637.7zM206.1 616.1L209 621.1L203.2 621.1zM217.5 611L220.4 616L214.6 616zM225.8 611L228.7 616L222.9 616zM236.8 611L239.7 616L233.9 616zM252.6 611L255.5 616L249.7 616zM265.7 611L268.6 616L262.8 616zM277.1 594.2L280 599.2L274.2 599.2zM285.4 589.1L288.3 594.1L282.5 594.1zM300.7 577.3L303.6 582.3L297.8 582.3zM318.2 572.3L321.1 577.3L315.3 577.3zM327 561.4L329.9 566.4L324.1 566.4zM344.3 555.7L347.2 560.7L341.4 560.7zM356.3 544.5L359.2 549.5L353.4 549.5zM367.7 534.2L370.6 539.2L364.8 539.2zM385.2 523.2L388.1 528.2L382.3 528.2zM411.5 523.2L414.4 528.2L408.6 528.2zM436.9 517.5L439.8 522.5L434 522.5zM448.2 512.3L451.1 517.3L445.3 517.3zM463.6 512.3L466.5 517.3L460.7 517.3zM469.7 512.3L472.6 517.3L466.8 517.3zM483.1 512L486 517L480.2 517zM500.2 512L503.1 517L497.3 517zM519.3 506.3L522.2 511.3L516.4 511.3zM540.5 506.3L543.4 511.3L537.6 511.3zM555.8 506.3L558.7 511.3L552.9 511.3zM567.4 500.8L570.3 505.8L564.5 505.8zM579 500.8L581.9 505.8L576.1 505.8zM590 495.4L592.9 500.4L587.1 500.4zM595.9 495.4L598.8 500.4L593 500.4zM601.8 490.1L604.7 495.1L598.9 495.1zM620 490.1L622.9 495.1L617.1 495.1zM632.4 490.1L635.3 495.1L629.5 495.1zM644.3 484.2L647.2 489.2L641.4 489.2zM649 484.2L651.9 489.2L646.1 489.2zM653 484.2L655.9 489.2L650.1 489.2zM657 484.2L659.9 489.2L654.1 489.2zM665 484.2L667.9 489.2L662.1 489.2zM669 484.2L671.9 489.2L666.1 489.2zM672.5 484.2L675.4 489.2L669.6 489.2zM681 484.2L683.9 489.2L678.1 489.2z"/>
<path fill="#1e1e8c" d="M61.5 752.3L64.4 754.7L61.5 757.1L58.6 754.7zM64.5 752.3L67.4 754.7L64.5 757.1L61.6 754.7zM68 752.3L70.9 754.7L68 757.1L65.1 754.7zM71.5 752.3L74.4 754.7L71.5 757.1L68.6 754.7zM74.4 745.1L77.3 747.5L74.4 749.9L71.5 747.5zM74.4 738.1L77.3 740.5L74.4 742.9L71.5 740.5zM76.2 738.1L79.1 740.5L76.2 742.9L73.3 740.5zM78.3 738.1L81.2 740.5L78.3 742.9L75.4 740.5zM83.5 731.5L86.4 733.9L83.5 736.3L80.6 733.9zM85.9 731.5L88.8 733.9L85.9 736.3L83 733.9zM87.7 731.5L90.6 733.9L87.7 736.3L84.8 733.9zM89.3 724.7L92.2 727.1L89.3 729.5L86.4 727.1zM90 711L92.9 713.4L90 715.8L87.1 713.4zM91.7 711L94.6 713.4L91.7 715.8L88.8 713.4zM97 711L99.9 713.4L97 715.8L94.1 713.4zM104.6 711L107.5 713.4L104.6 715.8L101.7 713.4zM106.9 711L109.8 713.4L106.9 715.8L104 713.4zM119.2 711L122.1 713.4L119.2 715.8L116.3 713.4zM121.5 711L124.4 713.4L121.5 715.8L118.6 713.4zM124.4 711L127.3 713.4L124.4 715.8L121.5 713.4zM140.4 690.5L143.3 692.9L140.4 695.3L137.5 692.9zM142.6 690.5L145.5 692.9L142.6 695.3L139.7 692.9zM144.7 683.5L147.6 685.9L144.7 688.3L141.8 685.9zM150.2 683.5L153.1 685.9L150.2 688.3L147.3 685.9zM155.7 683.5L158.6 685.9L155.7 688.3L152.8 685.9zM161.2 683.5L164.1 685.9L161.2 688.3L158.3 685.9zM162.3 676.3L165.2 678.7L162.3 681.1L159.4 678.7zM177.1 649.6L180 652L177.1 654.4L174.2 652zM177.6 642.3L180.5 644.7L177.6 647.1L174.7 644.7zM179.8 642.3L182.7 644.7L179.8 647.1L176.9 644.7zM182.4 635.3L185.3 637.7L182.4 640.1L179.5 637.7zM205.5 615.2L208.4 617.6L205.5 620L202.6 617.6zM208.8 615.2L211.7 617.6L208.8 620L205.9 617.6zM212 615.2L214.9 617.6L212 620L209.1 617.6zM215.3 615.2L218.2 617.6L215.3 620L212.4 617.6zM217.5 615.2L220.4 617.6L217.5 620L214.6 617.6zM220.8 608.2L223.7 610.6L220.8 613L217.9 610.6zM238.3 594.4L241.2 596.8L238.3 599.2L235.4 596.8zM242.7 594.4L245.6 596.8L242.7 599.2L239.8 596.8zM246 587.2L248.9 589.6L246 592L243.1 589.6zM249.3 587.2L252.2 589.6L249.3 592L246.4 589.6zM252.6 587.2L255.5 589.6L252.6 592L249.7 589.6zM281 580.6L283.9 583L281 585.4L278.1 583zM284.3 580.6L287.2 583L284.3 585.4L281.4 583zM288.7 580.6L291.6 583L288.7 585.4L285.8 583zM292 580.6L294.9 583L292 585.4L289.1 583zM296.3 580.6L299.2 583L296.3 585.4L293.4 583zM299.6 580.6L302.5 583L299.6 585.4L296.7 583zM325.9 560L328.8 562.4L325.9 564.8L323 562.4zM329.2 560L332.1 562.4L329.2 564.8L326.3 562.4zM333.6 560L336.5 562.4L333.6 564.8L330.7 562.4zM336.9 560L339.8 562.4L336.9 564.8L334 562.4zM343.4 560L346.3 562.4L343.4 564.8L340.5 562.4zM370.5 560.2L373.4 562.6L370.5 565L367.6 562.6zM373.8 560.2L376.7 562.6L373.8 565L370.9 562.6zM381.5 560.2L384.4 562.6L381.5 565L378.6 562.6zM385.8 560.2L388.7 562.6L385.8 565L382.9 562.6zM395.7 560.2L398.6 562.6L395.7 565L392.8 562.6zM404.4 560.2L407.3 562.6L404.4 565L401.5 562.6zM407.7 560.2L410.6 562.6L407.7 565L404.8 562.6zM409.9 560.2L412.8 562.6L409.9 565L407 562.6zM416.5 560.2L419.4 562.6L416.5 565L413.6 562.6zM431.8 560.2L434.7 562.6L431.8 565L428.9 562.6zM441.7 560.2L444.6 562.6L441.7 565L438.8 562.6zM447.1 560.2L450 562.6L447.1 565L444.2 562.6zM459.2 560.2L462.1 562.6L459.2 565L456.3 562.6zM466.9 560.2L469.8 562.6L466.9 565L464 562.6zM474.5 559.9L477.4 562.3L474.5 564.7L471.6 562.3zM482 559.7L484.9 562.1L482 564.5L479.1 562.1zM489.7 559.7L492.6 562.1L489.7 564.5L486.8 562.1zM525.8 539.6L528.7 542L525.8 544.4L522.9 542zM529.1 539.6L532 542L529.1 544.4L526.2 542zM533.5 539.6L536.4 542L533.5 544.4L530.6 542zM544.9 539.6L547.8 542L544.9 544.4L542 542zM547.1 532.3L550 534.7L547.1 537.1L544.2 534.7zM555 512L557.9 514.4L555 516.8L552.1 514.4zM559.8 512L562.7 514.4L559.8 516.8L556.9 514.4zM566.3 512L569.2 514.4L566.3 516.8L563.4 514.4zM569.6 512L572.5 514.4L569.6 516.8L566.7 514.4zM572.9 512L575.8 514.4L572.9 516.8L570 514.4zM587.1 505L590 507.4L587.1 509.8L584.2 507.4zM591.5 505L594.4 507.4L591.5 509.8L588.6 507.4zM595.9 505L598.8 507.4L595.9 509.8L593 507.4zM599.2 505L602.1 507.4L599.2 509.8L596.3 507.4zM605.8 504.9L608.7 507.3L605.8 509.7L602.9 507.3zM610.1 504.9L613 507.3L610.1 509.7L607.2 507.3zM614.6 504.9L617.5 507.3L614.6 509.7L611.7 507.3zM622.6 498.2L625.5 500.6L622.6 503L619.7 500.6zM629.8 498.2L632.7 500.6L629.8 503L626.9 500.6zM633.1 498.2L636 500.6L633.1 503L630.2 500.6zM636.4 498.2L639.3 500.6L636.4 503L633.5 500.6zM640.3 498.2L643.2 500.6L640.3 503L637.4 500.6zM641.6 491.6L644.5 494L641.6 496.4L638.7 494zM643.6 491.6L646.5 494L643.6 496.4L640.7 494zM655.4 491.6L658.3 494L655.4 496.4L652.5 494zM658.5 491.6L661.4 494L658.5 496.4L655.6 494zM661.5 491.6L664.4 494L661.5 496.4L658.6 494zM664.5 491.6L667.4 494L664.5 496.4L661.6 494zM667.5 491.6L670.4 494L667.5 496.4L664.6 494zM670.5 491.6L673.4 494L670.5 496.4L667.6 494zM673.5 491.6L676.4 494L673.5 496.4L670.6 494zM676.5 491.6L679.4 494L676.5 496.4L673.6 494zM677.1 484.4L680 486.8L677.1 489.2L674.2 486.8zM680.4 484.4L683.3 486.8L680.4 489.2L677.5 486.8z"/>
<g font-family="Liberation Sans, sans-serif" font-size="9" fill="#333">
<text transform="translate(48.9 792.4) scale(1.2 1)" text-anchor="end">0</text>
<text transform="translate(56.6 805.8) scale(1.2 1)" text-anchor="middle">0</text>
<text transform="translate(48.9 762.18) scale(1.2 1)" text-anchor="end">0<tspan font-weight="bold" fill="#000">.</tspan>1</text>
<text transform="translate(119.04 805.8) scale(1.2 1)" text-anchor="middle">0<tspan font-weight="bold" fill="#000">.</tspan>1</text>
<text transform="translate(48.9 731.96) scale(1.2 1)" text-anchor="end">0<tspan font-weight="bold" fill="#000">.</tspan>2</text>
<text transform="translate(181.48 805.8) scale(1.2 1)" text-anchor="middle">0<tspan font-weight="bold" fill="#000">.</tspan>2</text>
<text transform="translate(48.9 701.74) scale(1.2 1)" text-anchor="end">0<tspan font-weight="bold" fill="#000">.</tspan>3</text>
<text transform="translate(243.92 805.8) scale(1.2 1)" text-anchor="middle">0<tspan font-weight="bold" fill="#000">.</tspan>3</text>
<text transform="translate(48.9 671.52) scale(1.2 1)" text-anchor="end">0<tspan font-weight="bold" fill="#000">.</tspan>4</text>
<text transform="translate(306.36 805.8) scale(1.2 1)" text-anchor="middle">0<tspan font-weight="bold" fill="#000">.</tspan>4</text>
<text transform="translate(48.9 641.3) scale(1.2 1)" text-anchor="end">0<tspan font-weight="bold" fill="#000">.</tspan>5</text>
<text transform="translate(368.8 805.8) scale(1.2 1)" text-anchor="middle">0<tspan font-weight="bold" fill="#000">.</tspan>5</text>
<text transform="translate(48.9 611.08) scale(1.2 1)" text-anchor="end">0<tspan font-weight="bold" fill="#000">.</tspan>6</text>
<text transform="translate(431.24 805.8) scale(1.2 1)" text-anchor="middle">0<tspan font-weight="bold" fill="#000">.</tspan>6</text>
<text transform="translate(48.9 580.86) scale(1.2 1)" text-anchor="end">0<tspan font-weight="bold" fill="#000">.</tspan>7</text>
<text transform="translate(493.68 805.8) scale(1.2 1)" text-anchor="middle">0<tspan font-weight="bold" fill="#000">.</tspan>7</text>
<text transform="translate(48.9 550.64) scale(1.2 1)" text-anchor="end">0<tspan font-weight="bold" fill="#000">.</tspan>8</text>
<text transform="translate(556.12 805.8) scale(1.2 1)" text-anchor="middle">0<tspan font-weight="bold" fill="#000">.</tspan>8</text>
<text transform="translate(48.9 520.42) scale(1.2 1)" text-anchor="end">0<tspan font-weight="bold" fill="#000">.</tspan>9</text>
<text transform="translate(618.56 805.8) scale(1.2 1)" text-anchor="middle">0<tspan font-weight="bold" fill="#000">.</tspan>9</text>
<text transform="translate(48.9 490.2) scale(1.2 1)" text-anchor="end">1</text>
<text transform="translate(681 805.8) scale(1.2 1)" text-anchor="middle">1</text>
</g>
<g font-family="Liberation Sans, sans-serif" font-weight="bold" fill="#161616">
<text transform="translate(24.2 637.4) rotate(-90)" font-size="9" text-anchor="middle">Sensitivity</text>
<text transform="translate(368.8 820.7) scale(1.2 1)" font-size="9" text-anchor="middle">1 - Specificity</text>
<text x="0" y="488.6" font-size="14" fill="#000">(b)</text>
</g>
<rect x="485" y="698.5" width="183.1" height="56.9" fill="#fff" stroke="#444" stroke-width="1.1"/>
<line x1="506.4" y1="705.3" x2="528.8" y2="705.3" stroke="#3a9a74" stroke-width="1.1"/>
<path fill="#1cb877" d="M515.1 702.5h5.4v5.6h-5.4z"/>
<text transform="translate(531.5 708.9) scale(1.13 1)" font-family="Liberation Sans, sans-serif" font-size="9.6" fill="#2a2a2a" stroke="#2a2a2a" stroke-width="0">Systo<tspan stroke="#111" stroke-width="0.9">l</tspan>ic Blood Pressure</text>
<line x1="506.4" y1="719.5" x2="528.8" y2="719.5" stroke="#e03a48" stroke-width="1.1"/>
<path fill="#f42a36" d="M517.8 716.59L520.3 722.19L515.3 722.19z"/>
<text transform="translate(531.5 723.1) scale(1.13 1)" font-family="Liberation Sans, sans-serif" font-size="9.6" fill="#2a2a2a" stroke="#2a2a2a" stroke-width="0">StO2</text>
<line x1="506.4" y1="733.5" x2="528.8" y2="733.5" stroke="#2a2a88" stroke-width="1.1"/>
<path fill="#1e1e8c" d="M517.8 730.8L520.3 733.5L517.8 736.2L515.3 733.5z"/>
<text transform="translate(531.5 737.1) scale(1.13 1)" font-family="Liberation Sans, sans-serif" font-size="9.6" fill="#2a2a2a" stroke="#2a2a2a" stroke-width="0">Base Deficit</text>
<line x1="506.4" y1="747.4" x2="528.8" y2="747.4" stroke="#1a1a10" stroke-width="2.8"/>
<text transform="translate(531.5 751) scale(1.13 1)" font-family="Liberation Sans, sans-serif" font-size="9.6" fill="#2a2a2a" stroke="#2a2a2a" stroke-width="0"><tspan stroke="#111" stroke-width="0.9">I</tspan>dentity Line</text>
</g>
</svg>
</body></html>
